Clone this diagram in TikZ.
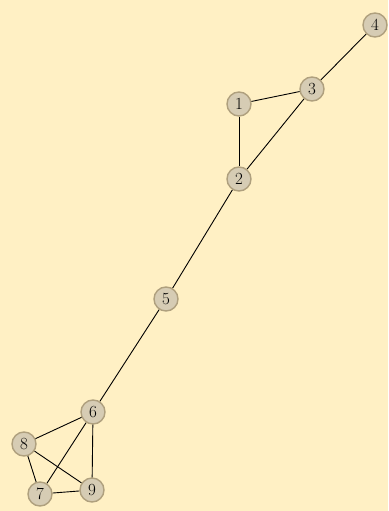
\documentclass[tikz,border=0pt]{standalone}
\begin{document}
\begin{tikzpicture}[x=1pt,y=-1pt,
  vtx/.style={circle,draw=vborder,fill=vfill,line width=1.4pt,minimum size=24pt,inner sep=0pt,font=\fontsize{17}{20}\selectfont},
  edge/.style={line width=0.9pt,black}]
\definecolor{bg}{HTML}{FFF0C4}
\definecolor{vfill}{HTML}{D6CCB4}
\definecolor{vborder}{HTML}{AFA07E}
\fill[bg] (0,0) rectangle (388,511);
\useasboundingbox (0,0) rectangle (388,511);
\node[vtx] (n1) at (239,104) {1};
\node[vtx] (n2) at (239,179) {2};
\node[vtx] (n3) at (312,89) {3};
\node[vtx] (n4) at (375,25) {4};
\node[vtx] (n5) at (166,299) {5};
\node[vtx] (n6) at (93,412) {6};
\node[vtx] (n7) at (40,494) {7};
\node[vtx] (n8) at (24,444) {8};
\node[vtx] (n9) at (92,490) {9};
\draw[edge] (n1) -- (n2);
\draw[edge] (n1) -- (n3);
\draw[edge] (n2) -- (n3);
\draw[edge] (n3) -- (n4);
\draw[edge] (n2) -- (n5);
\draw[edge] (n5) -- (n6);
\draw[edge] (n6) -- (n8);
\draw[edge] (n6) -- (n7);
\draw[edge] (n6) -- (n9);
\draw[edge] (n8) -- (n7);
\draw[edge] (n8) -- (n9);
\draw[edge] (n7) -- (n9);
\end{tikzpicture}
\end{document}
